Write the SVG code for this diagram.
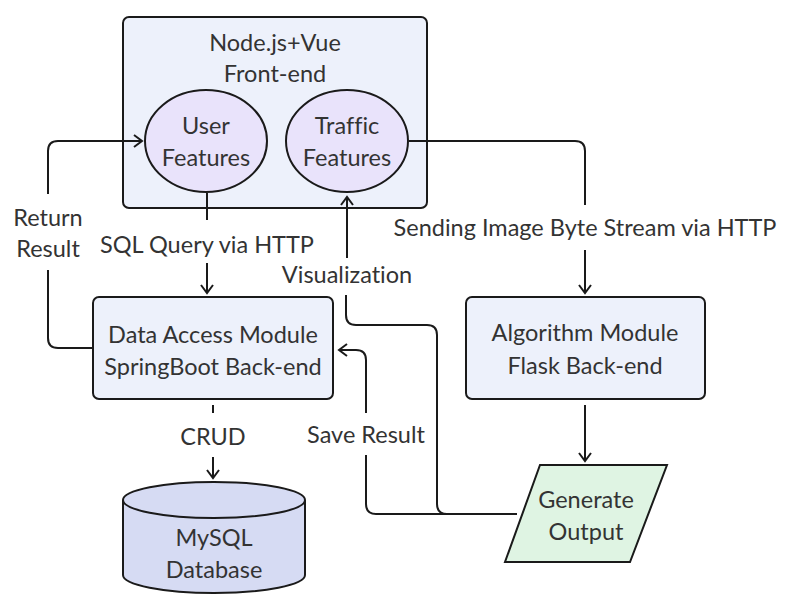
<svg xmlns="http://www.w3.org/2000/svg" width="786" height="608" viewBox="0 0 786 608">
<defs>
<style>
.t{font-family:Lato,"Noto Sans","Liberation Sans",sans-serif;font-size:23.5px;fill:#333;text-anchor:middle;font-variant-ligatures:none}
.box{fill:#edf1fb;stroke:#1a1a1a;stroke-width:2}
.ell{fill:#e9e3fb;stroke:#1a1a1a;stroke-width:2}
.cyl{fill:#d6dbf3;stroke:#1a1a1a;stroke-width:2}
.io{fill:#dff4e3;stroke:#1a1a1a;stroke-width:2}
.c{fill:none;stroke:#1a1a1a;stroke-width:2}
.a{marker-end:url(#arr)}
</style>
<marker id="arr" viewBox="-10 -7 12 14" refX="0" refY="0" markerWidth="12" markerHeight="14" markerUnits="userSpaceOnUse" orient="auto">
<path d="M -8 -6 L 0 0 L -8 6" fill="none" stroke="#1a1a1a" stroke-width="2"/>
</marker>
</defs>
<rect width="786" height="608" fill="#fff"/>
<g id="frontend">
<rect class="box" x="123" y="17" width="304" height="191" rx="6"/>
<text class="t" x="275" y="51">Node.js+Vue</text>
<text class="t" x="275" y="82">Front-end</text>
</g>
<g id="user-features">
<ellipse class="ell" cx="206" cy="141" rx="61" ry="51"/>
<text class="t" x="206" y="134">User</text>
<text class="t" x="206" y="166">Features</text>
</g>
<g id="traffic-features">
<ellipse class="ell" cx="347" cy="141" rx="61" ry="51"/>
<text class="t" x="347" y="134">Traffic</text>
<text class="t" x="347" y="166">Features</text>
</g>
<g id="data-access">
<rect class="box" x="93" y="297" width="240" height="102" rx="6"/>
<text class="t" x="213" y="343">Data Access Module</text>
<text class="t" x="213" y="375">SpringBoot Back-end</text>
</g>
<g id="algorithm">
<rect class="box" x="466" y="297" width="239" height="102" rx="6"/>
<text class="t" x="585" y="341">Algorithm Module</text>
<text class="t" x="585" y="374">Flask Back-end</text>
</g>
<g id="mysql">
<path class="cyl" d="M 123 500 A 91 18 0 0 1 305 500 V 575 A 91 18 0 0 1 123 575 Z"/>
<path class="c" d="M 123 500 A 91 18 0 0 0 305 500"/>
<text class="t" x="214" y="546">MySQL</text>
<text class="t" x="214" y="578">Database</text>
</g>
<g id="generate-output">
<polygon class="io" points="540,465 667,465 630,562 505,562"/>
<text class="t" x="586" y="508">Generate</text>
<text class="t" x="586" y="540">Output</text>
</g>
<g id="connectors">
<path class="c" d="M 92 348 H 58 Q 48 348 48 338 V 270"/>
<path class="c a" d="M 48 194 V 151 Q 48 141 58 141 H 142"/>
<text class="t" x="48" y="226">Return</text>
<text class="t" x="48" y="257">Result</text>
<path class="c" d="M 207 193 V 220"/>
<path class="c a" d="M 207 263 V 293"/>
<text class="t" x="207" y="253">SQL Query via HTTP</text>
<path class="c" d="M 409 141 H 575 Q 585 141 585 151 V 205"/>
<path class="c a" d="M 585 250 V 293"/>
<text class="t" x="585" y="236">Sending Image Byte Stream via HTTP</text>
<path class="c a" d="M 585 405 V 461"/>
<path class="c" d="M 213 405 V 413"/>
<path class="c a" d="M 213 457 V 478"/>
<text class="t" x="213" y="445">CRUD</text>
<path class="c" d="M 517 514 H 376 Q 366 514 366 504 V 455"/>
<path class="c a" d="M 366 413 V 360 Q 366 350 356 350 H 339"/>
<text class="t" x="366" y="443">Save Result</text>
<path class="c" d="M 517 514 H 447 Q 437 514 437 504 V 335 Q 437 325 427 325 H 356 Q 346 325 346 315 V 295"/>
<path class="c a" d="M 347 258 V 197"/>
<text class="t" x="347" y="283">Visualization</text>
</g>
</svg>
